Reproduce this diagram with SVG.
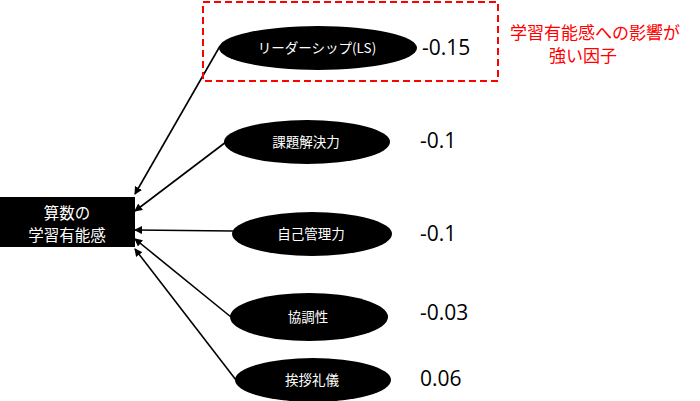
<svg xmlns="http://www.w3.org/2000/svg" width="700" height="401" viewBox="0 0 700 401">
<defs>
<marker id="ah" markerWidth="8" markerHeight="8" refX="7" refY="4" orient="auto" markerUnits="userSpaceOnUse">
<path d="M0,0 L8,4 L0,8 Z" fill="#000"/>
</marker>
<style>
.n{fill:#000}
.t{fill:#fff;font-family:"Noto Sans CJK JP","Noto Sans",sans-serif;font-size:13.5px;text-anchor:middle}
.b{font-size:15.5px}
.v{fill:#000;font-family:"Open Sans","Noto Sans",sans-serif;font-size:21px}
.c{stroke:#000;stroke-width:1.6;fill:none;marker-end:url(#ah)}
.r{fill:#ff0000;font-family:"Noto Sans CJK JP",sans-serif;font-size:17px;text-anchor:middle}
</style>
</defs>
<rect width="700" height="401" fill="#fff"/>
<g id="connectors">
<line class="c" x1="220" y1="46" x2="135" y2="194"/>
<line class="c" x1="226" y1="142" x2="135" y2="211"/>
<line class="c" x1="233" y1="231" x2="135" y2="230"/>
<line class="c" x1="231" y1="317" x2="135" y2="239"/>
<line class="c" x1="236" y1="380" x2="135" y2="249"/>
</g>
<g id="target">
<rect class="n" x="0" y="197" width="135" height="50"/>
<text class="t b" x="67" y="219">算数の</text>
<text class="t b" x="67" y="241">学習有能感</text>
</g>
<g id="ls">
<ellipse class="n" cx="318" cy="48" rx="99" ry="22"/>
<text class="t" x="317" y="53">リーダーシップ(LS)</text>
</g>
<g id="kadai">
<ellipse class="n" cx="307" cy="142" rx="83" ry="22"/>
<text class="t" x="306" y="147">課題解決力</text>
</g>
<g id="jiko">
<ellipse class="n" cx="312" cy="234" rx="80" ry="22"/>
<text class="t" x="311" y="239">自己管理力</text>
</g>
<g id="kyocho">
<ellipse class="n" cx="309" cy="317" rx="79" ry="24"/>
<text class="t" x="308" y="322">協調性</text>
</g>
<g id="aisatsu">
<ellipse class="n" cx="313" cy="380" rx="78" ry="22"/>
<text class="t" x="312" y="385">挨拶礼儀</text>
</g>
<g id="values">
<text class="v" x="422" y="55">-0.15</text>
<text class="v" x="420" y="148">-0.1</text>
<text class="v" x="420" y="241">-0.1</text>
<text class="v" x="420" y="320">-0.03</text>
<text class="v" x="420" y="386">0.06</text>
</g>
<g id="highlight">
<rect x="203" y="2" width="295" height="79" fill="none" stroke="#ff0000" stroke-width="2" stroke-dasharray="7,4"/>
<text class="r" x="595" y="39">学習有能感への影響が</text>
<text class="r" x="583" y="62">強い因子</text>
</g>
</svg>
